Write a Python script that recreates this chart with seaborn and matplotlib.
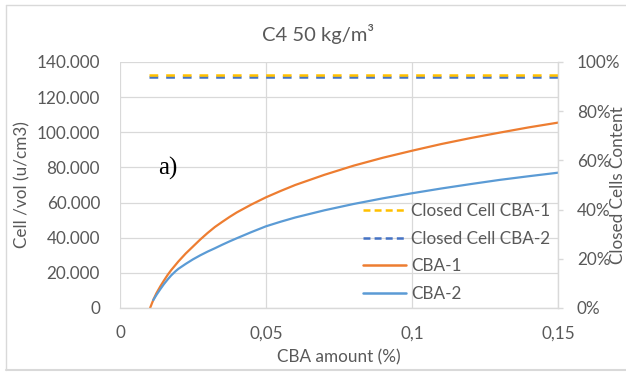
import matplotlib
matplotlib.use("Agg")
import matplotlib.pyplot as plt
import seaborn as sns
import pandas as pd
from matplotlib.ticker import FuncFormatter, MultipleLocator
from matplotlib.lines import Line2D

# ---- data ----
x_cba1 = [0.0103, 0.0115, 0.0125, 0.0138, 0.015, 0.0163, 0.0175, 0.019, 0.02, 0.0225,
          0.025, 0.0275, 0.03, 0.0325, 0.035, 0.0375, 0.04, 0.045, 0.05, 0.055,
          0.06, 0.07, 0.08, 0.09, 0.10, 0.11, 0.12, 0.13, 0.14, 0.15]
cba1 = [0, 5000, 8500, 12300, 15500, 18800, 21500, 24500, 26500, 31000,
        35000, 39000, 42700, 46100, 49000, 51800, 54400, 58900, 63000, 66600,
        70000, 75800, 81000, 85500, 89500, 93300, 96700, 99800, 102800, 105500]

x_cba2 = [0.0114, 0.0125, 0.0138, 0.015, 0.0163, 0.0175, 0.019, 0.02, 0.0225, 0.025,
          0.0275, 0.03, 0.0325, 0.035, 0.0375, 0.04, 0.045, 0.05, 0.055, 0.06,
          0.07, 0.08, 0.09, 0.10, 0.11, 0.12, 0.13, 0.14, 0.15]
cba2 = [4500, 7500, 10700, 13500, 16200, 18500, 20900, 22300, 25100, 27700,
        30000, 32100, 34000, 36000, 37900, 39700, 43200, 46500, 49100, 51500,
        55600, 59200, 62400, 65300, 68000, 70500, 72900, 75000, 77000]

x_closed = [0.01, 0.15]
closed_cba1 = [94.8, 94.8]
closed_cba2 = [93.8, 93.8]

title = "C4 50 kg/m³"
xlabel = "CBA amount (%)"
ylabel = "Cell /vol (u/cm3)"
ylabel2 = "Closed Cells Content"
annotation = "a)"

# ---- style ----
sns.set_theme(style="white")
plt.rcParams["font.family"] = ["Lato", "DejaVu Sans"]
plt.rcParams["lines.scale_dashes"] = False

TXT = "#595959"
GRID = "#D9D9D9"
C_ORANGE = "#ED7D31"
C_BLUE = "#5B9BD5"
C_YELLOW = "#FFC000"
C_DBLUE = "#4472C4"
FS = 12.3

W, H = 626, 373
fig = plt.figure(figsize=(W / 100, H / 100), dpi=100)
L, R, T, B = 120, 558, 62, 308
ax = fig.add_axes([L / W, (H - B) / H, (R - L) / W, (B - T) / H])
ax2 = ax.twinx()

df1 = pd.DataFrame({"x": x_cba1, "y": cba1})
df2 = pd.DataFrame({"x": x_cba2, "y": cba2})
sns.lineplot(data=df1, x="x", y="y", ax=ax, color=C_ORANGE, linewidth=1.6, legend=False)
sns.lineplot(data=df2, x="x", y="y", ax=ax, color=C_BLUE, linewidth=1.6, legend=False)
for ln in ax.lines:
    ln.set_solid_joinstyle("round")

dfc1 = pd.DataFrame({"x": x_closed, "y": closed_cba1})
dfc2 = pd.DataFrame({"x": x_closed, "y": closed_cba2})
sns.lineplot(data=dfc2, x="x", y="y", ax=ax2, color=C_DBLUE, linewidth=1.8, legend=False)
sns.lineplot(data=dfc1, x="x", y="y", ax=ax2, color=C_YELLOW, linewidth=1.8, legend=False)
for ln in ax2.lines:
    ln.set_dashes([6.3, 5.7])

ax.set_xlim(0, 0.15)
ax.set_ylim(0, 140000)
ax2.set_ylim(0, 100)

ax.xaxis.set_major_locator(MultipleLocator(0.05))
ax.yaxis.set_major_locator(MultipleLocator(20000))
ax2.yaxis.set_major_locator(MultipleLocator(20))
ax.xaxis.set_major_formatter(FuncFormatter(lambda v, p: f"{v:g}".replace(".", ",")))
ax.yaxis.set_major_formatter(FuncFormatter(lambda v, p: f"{v:,.0f}".replace(",", ".")))
ax2.yaxis.set_major_formatter(FuncFormatter(lambda v, p: f"{v:.0f}%"))

ax.grid(True, color=GRID, linewidth=0.9)
ax.set_axisbelow(True)
for s in ["top", "left", "right"]:
    ax.spines[s].set_visible(False)
ax.spines["bottom"].set_color(GRID)
ax.spines["bottom"].set_linewidth(1.0)
for s in ["top", "left", "bottom"]:
    ax2.spines[s].set_visible(False)
ax2.spines["right"].set_color(GRID)
ax2.spines["right"].set_linewidth(1.0)

ax.tick_params(axis="both", length=0, labelsize=FS, labelcolor=TXT)
ax.tick_params(axis="y", pad=14.4)
ax.tick_params(axis="x", pad=12.5)
ax2.tick_params(axis="y", length=3.6, width=1.0, color=GRID, direction="out",
                labelsize=FS, labelcolor=TXT, pad=10)

ax.set_xlabel(xlabel, fontsize=FS, color=TXT, va="center")
ax.xaxis.set_label_coords(0.5, (B - 357) / (B - T))
ax.set_ylabel(ylabel, fontsize=FS, color=TXT, va="center")
ax.yaxis.set_label_coords((22 - L) / (R - L), 0.5)
ax2.set_ylabel(ylabel2, fontsize=FS, color=TXT, va="center")
ax2.yaxis.set_label_coords((618 - L) / (R - L), 0.5)

ax.set_title(title, fontsize=14.5, color=TXT, x=(318 - L) / (R - L),
             y=(B - 41) / (B - T), va="baseline", pad=0)

ax.text(0.013, 79700, annotation, fontsize=18, family="Liberation Serif",
        color="black", ha="left", va="center")

handles = [
    Line2D([], [], color=C_YELLOW, linewidth=1.8, dashes=[5, 3]),
    Line2D([], [], color=C_DBLUE, linewidth=1.8, dashes=[5, 3]),
    Line2D([], [], color=C_ORANGE, linewidth=1.8),
    Line2D([], [], color=C_BLUE, linewidth=1.8),
]
labels = ["Closed Cell CBA-1", "Closed Cell CBA-2", "CBA-1", "CBA-2"]
leg = ax2.legend(handles, labels, loc="upper left", frameon=False,
                 bbox_to_anchor=(363 / W, (H - 203) / H), bbox_transform=fig.transFigure,
                 borderpad=0, borderaxespad=0, fontsize=FS, labelcolor=TXT,
                 handlelength=2.5, handletextpad=0.3, labelspacing=0.68)

# chart area border
for xs, ys, lw in [([6, 6], [5, 370], 1.0), ([6, 626], [5, 5], 1.0), ([6, 626], [370, 370], 1.5)]:
    fig.add_artist(Line2D([x / W for x in xs], [(H - y) / H for y in ys],
                          color=GRID, linewidth=lw, transform=fig.transFigure))

fig.savefig("out.png", dpi=100)
